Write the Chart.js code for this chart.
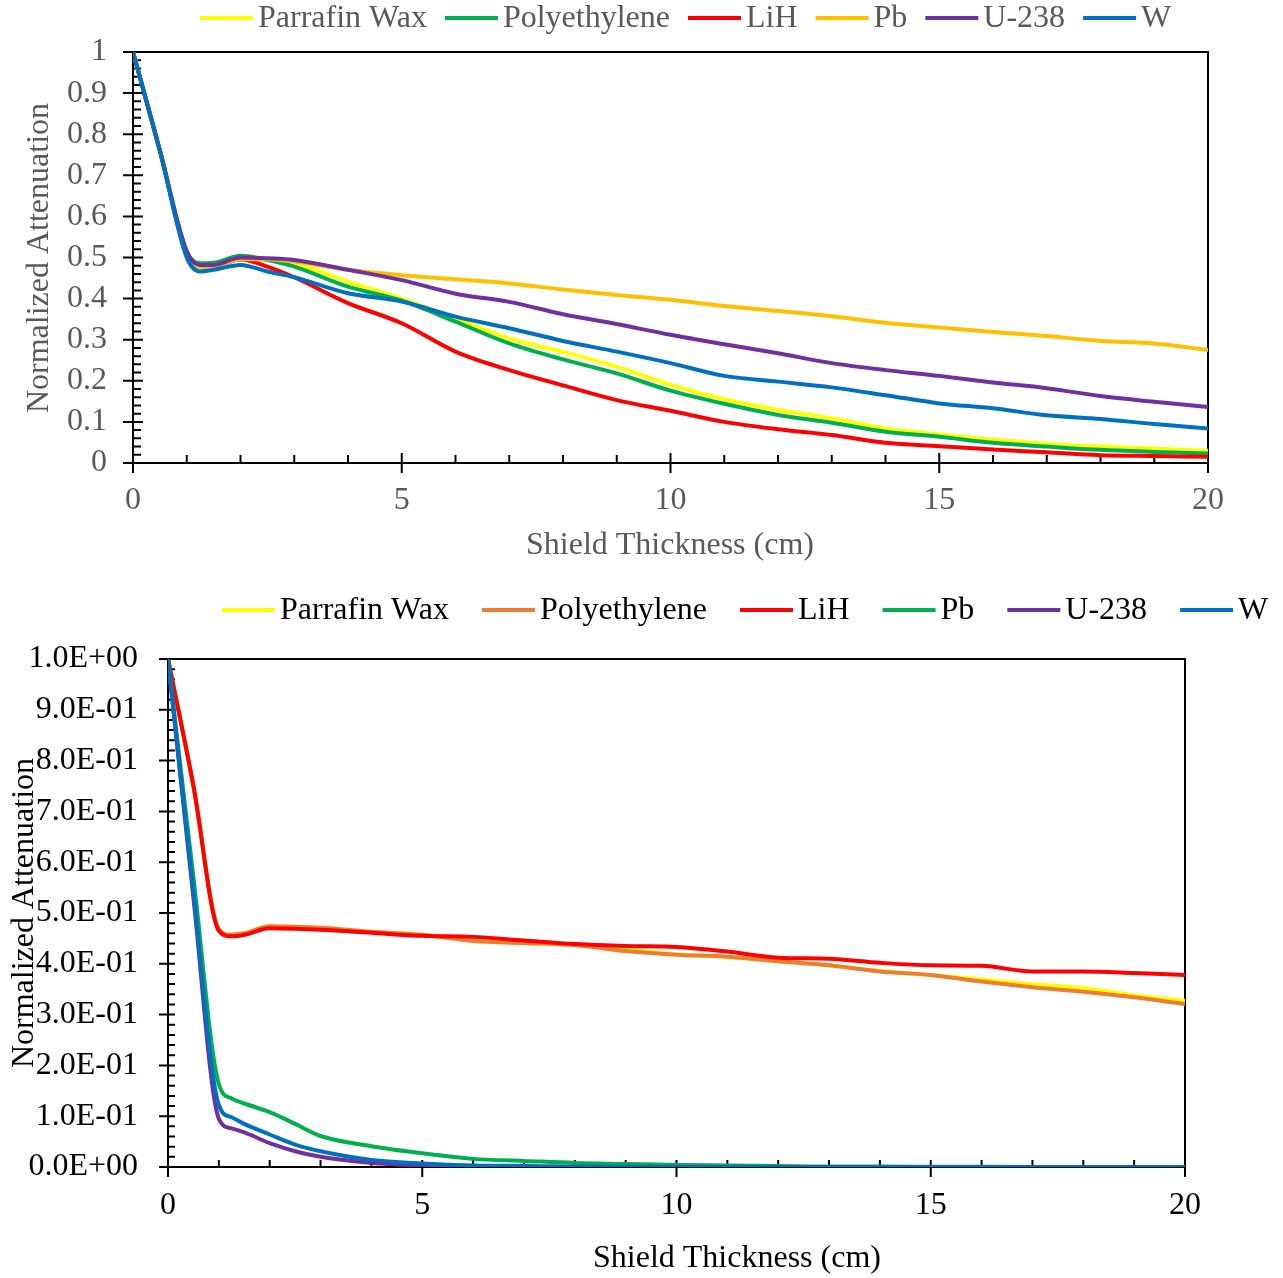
<!DOCTYPE html>
<html>
<head>
<meta charset="utf-8">
<title>Shield Thickness vs Normalized Attenuation</title>
<script src="https://cdn.jsdelivr.net/npm/chart.js@4.4.0/dist/chart.umd.min.js"></script>
<style>
  body { margin: 0; background: #fff; }
  .panel { position: absolute; left: 0; }
</style>
</head>
<body>
<div class="panel" style="top:0"><canvas id="topChart" width="1283" height="580"></canvas></div>
<div class="panel" style="top:580px"><canvas id="bottomChart" width="1283" height="698"></canvas></div>

<script>
// Shield thickness (cm) sample points shared by both panels
const thickness = [0, 0.5, 1, 1.25, 1.5, 2, 2.5, 3, 4, 5, 6, 7, 8, 9, 10, 11, 12, 13, 14, 15, 16, 17, 18, 19, 20];

// Upper panel
const topParaffin = [1, 0.76, 0.51, 0.477, 0.478, 0.498, 0.494, 0.486, 0.441, 0.40, 0.352, 0.303, 0.27, 0.234, 0.19, 0.155, 0.129, 0.109, 0.084, 0.07, 0.057, 0.047, 0.04, 0.035, 0.03];
const topPoly     = [1, 0.76, 0.515, 0.486, 0.487, 0.504, 0.494, 0.478, 0.429, 0.395, 0.344, 0.291, 0.252, 0.218, 0.176, 0.144, 0.117, 0.098, 0.076, 0.064, 0.049, 0.04, 0.032, 0.027, 0.023];
const topLiH      = [1, 0.76, 0.51, 0.477, 0.478, 0.495, 0.478, 0.452, 0.389, 0.34, 0.271, 0.226, 0.189, 0.153, 0.127, 0.1, 0.082, 0.068, 0.049, 0.041, 0.033, 0.026, 0.019, 0.017, 0.015];
const topPb       = [1, 0.76, 0.51, 0.476, 0.477, 0.496, 0.496, 0.49, 0.47, 0.457, 0.447, 0.437, 0.422, 0.409, 0.397, 0.382, 0.37, 0.357, 0.341, 0.33, 0.319, 0.309, 0.297, 0.291, 0.275];
const topU238     = [1, 0.76, 0.515, 0.482, 0.482, 0.5, 0.498, 0.494, 0.47, 0.445, 0.412, 0.392, 0.362, 0.338, 0.312, 0.289, 0.267, 0.243, 0.226, 0.212, 0.196, 0.182, 0.163, 0.149, 0.136];
const topW        = [1, 0.76, 0.5, 0.466, 0.47, 0.482, 0.466, 0.452, 0.413, 0.393, 0.356, 0.328, 0.297, 0.271, 0.243, 0.212, 0.198, 0.184, 0.165, 0.145, 0.133, 0.116, 0.107, 0.095, 0.084];

// Lower panel
const botParaffin = [1, 0.75, 0.468, 0.457, 0.46, 0.474, 0.473, 0.471, 0.463, 0.457, 0.447, 0.441, 0.437, 0.428, 0.419, 0.414, 0.405, 0.397, 0.386, 0.378, 0.369, 0.36, 0.352, 0.338, 0.327];
const botPoly     = [1, 0.75, 0.468, 0.457, 0.46, 0.474, 0.473, 0.471, 0.463, 0.457, 0.445, 0.441, 0.437, 0.425, 0.418, 0.414, 0.405, 0.397, 0.385, 0.378, 0.365, 0.354, 0.345, 0.334, 0.321];
const botLiH      = [1, 0.75, 0.465, 0.454, 0.457, 0.47, 0.469, 0.467, 0.461, 0.455, 0.453, 0.446, 0.439, 0.435, 0.433, 0.424, 0.412, 0.41, 0.402, 0.397, 0.396, 0.385, 0.385, 0.382, 0.378];
const botPb       = [1, 0.57, 0.163, 0.135, 0.125, 0.108, 0.085, 0.061, 0.041, 0.027, 0.016, 0.012, 0.008, 0.006, 0.004, 0.003, 0.002, 0.001, 0.001, 0.0005, 0.0003, 0.0002, 0.0001, 0.0001, 0];
const botU238     = [1, 0.53, 0.095, 0.076, 0.068, 0.047, 0.031, 0.02, 0.008, 0.003, 0.001, 0.0005, 0.0002, 0.0001, 0, 0, 0, 0, 0, 0, 0, 0, 0, 0, 0];
const botW        = [1, 0.54, 0.122, 0.098, 0.085, 0.064, 0.044, 0.031, 0.014, 0.007, 0.003, 0.002, 0.001, 0.0005, 0.0002, 0, 0, 0, 0, 0, 0, 0, 0, 0, 0];

const materials = ['Parrafin Wax', 'Polyethylene', 'LiH', 'Pb', 'U-238', 'W'];
const topColors = ['#FFFF00', '#00B050', '#FF0000', '#FFC000', '#7030A0', '#0070C0'];
const botColors = ['#FFFF00', '#ED7D31', '#FF0000', '#00B050', '#7030A0', '#0070C0'];

const xTickLabels = ['0', '5', '10', '15', '20'];
const topYTickLabels = ['0', '0.1', '0.2', '0.3', '0.4', '0.5', '0.6', '0.7', '0.8', '0.9', '1'];
const botYTickLabels = ['0.0E+00', '1.0E-01', '2.0E-01', '3.0E-01', '4.0E-01', '5.0E-01',
                        '6.0E-01', '7.0E-01', '8.0E-01', '9.0E-01', '1.0E+00'];

const FONT_FAMILY = '"Liberation Serif", "Times New Roman", serif';
const FONT_SIZE = 32;

function points(values) {
  return values.map((v, i) => ({ x: thickness[i], y: v }));
}

function buildDatasets(seriesList, colors) {
  return seriesList.map((values, i) => ({
    label: materials[i],
    data: points(values),
    borderColor: colors[i],
    backgroundColor: colors[i],
    borderWidth: 4,
    pointRadius: 0,
    cubicInterpolationMode: 'monotone',
    fill: false,
    order: seriesList.length - i   // later series painted on top
  }));
}

// Box frame, Excel-style tick marks, legend row and axis titles
const excelDecor = {
  id: 'excelDecor',
  beforeDatasetsDraw(chart, args, o) {
    const { ctx, chartArea: a, scales: { x, y } } = chart;
    ctx.save();
    ctx.strokeStyle = '#000';
    ctx.lineWidth = 2;
    ctx.strokeRect(a.left, a.top, a.right - a.left, a.bottom - a.top);
    ctx.beginPath();
    for (let i = 0; i <= 50; i++) {
      const py = y.getPixelForValue(i * 0.02);
      const major = i % 5 === 0;
      ctx.moveTo(a.left - (major ? o.yMajorOut : 0), py);
      ctx.lineTo(a.left + (major ? o.yMajorIn : o.minorLen), py);
    }
    for (let i = 0; i <= 20; i++) {
      const px = x.getPixelForValue(i);
      const major = i % 5 === 0;
      ctx.moveTo(px, a.bottom + (major ? o.xMajorOut : 0));
      ctx.lineTo(px, a.bottom - (major ? o.xMajorIn : o.minorLen));
    }
    ctx.stroke();
    ctx.restore();
  },
  afterDraw(chart, args, o) {
    const { ctx } = chart;
    ctx.save();
    ctx.font = FONT_SIZE + 'px ' + FONT_FAMILY;
    ctx.fillStyle = o.color;
    ctx.textBaseline = 'middle';

    // legend
    ctx.textAlign = 'left';
    let cx = o.legendX;
    chart.data.datasets.forEach(ds => {
      ctx.strokeStyle = ds.borderColor;
      ctx.lineWidth = 4;
      ctx.beginPath();
      ctx.moveTo(cx, o.legendY);
      ctx.lineTo(cx + 53, o.legendY);
      ctx.stroke();
      ctx.fillText(ds.label, cx + 58, o.legendY + 1);
      cx += 58 + ctx.measureText(ds.label).width + o.legendGap;
    });

    // axis titles
    ctx.textAlign = 'center';
    ctx.fillText('Shield Thickness (cm)', o.xTitleX, o.xTitleY);
    ctx.translate(o.yTitleX, o.yTitleY);
    ctx.rotate(-Math.PI / 2);
    ctx.fillText('Normalized Attenuation', 0, 0);
    ctx.restore();
  }
};

function makeConfig(datasets, p) {
  return {
    type: 'line',
    data: { datasets },
    plugins: [excelDecor],
    options: {
      responsive: false,
      animation: false,
      events: [],
      layout: { padding: { top: p.plotTop, left: 0, right: p.padRight, bottom: 0 } },
      plugins: {
        legend: { display: false },
        tooltip: { enabled: false },
        excelDecor: p.decor
      },
      scales: {
        x: {
          type: 'linear',
          min: 0, max: 20,
          grid: { display: false, drawTicks: false },
          border: { display: false },
          ticks: {
            stepSize: 5,
            autoSkip: false,
            padding: p.xTickPad,
            color: p.color,
            font: { family: FONT_FAMILY, size: FONT_SIZE },
            maxRotation: 0,
            callback: (v, i) => xTickLabels[i]
          },
          afterFit: s => { s.height = p.xAxisHeight; }
        },
        y: {
          min: 0, max: 1,
          grid: { display: false, drawTicks: false },
          border: { display: false },
          ticks: {
            stepSize: 0.1,
            autoSkip: false,
            padding: p.yTickPad,
            color: p.color,
            font: { family: FONT_FAMILY, size: FONT_SIZE },
            callback: (v, i) => p.yLabels[i]
          },
          afterFit: s => { s.width = p.yAxisWidth; }
        }
      }
    }
  };
}

new Chart(document.getElementById('topChart'), makeConfig(
  buildDatasets([topParaffin, topPoly, topLiH, topPb, topU238, topW], topColors),
  {
    plotTop: 52, padRight: 75, xAxisHeight: 117, yAxisWidth: 133,
    xTickPad: 18, yTickPad: 26, color: '#595959', yLabels: topYTickLabels,
    decor: {
      color: '#595959',
      yMajorOut: 10, yMajorIn: 10, xMajorOut: 10, xMajorIn: 10, minorLen: 8,
      legendX: 200, legendY: 18, legendGap: 18,
      xTitleX: 670, xTitleY: 546, yTitleX: 40, yTitleY: 258
    }
  }
));

new Chart(document.getElementById('bottomChart'), makeConfig(
  buildDatasets([botParaffin, botPoly, botLiH, botPb, botU238, botW], botColors),
  {
    plotTop: 79, padRight: 98, xAxisHeight: 111, yAxisWidth: 168,
    xTickPad: 19, yTickPad: 30, color: '#000000', yLabels: botYTickLabels,
    decor: {
      color: '#000000',
      yMajorOut: 9, yMajorIn: 7, xMajorOut: 10, xMajorIn: 7, minorLen: 7,
      legendX: 222, legendY: 30, legendGap: 33,
      xTitleX: 737, xTitleY: 679, yTitleX: 25, yTitleY: 333
    }
  }
));
</script>
</body>
</html>
